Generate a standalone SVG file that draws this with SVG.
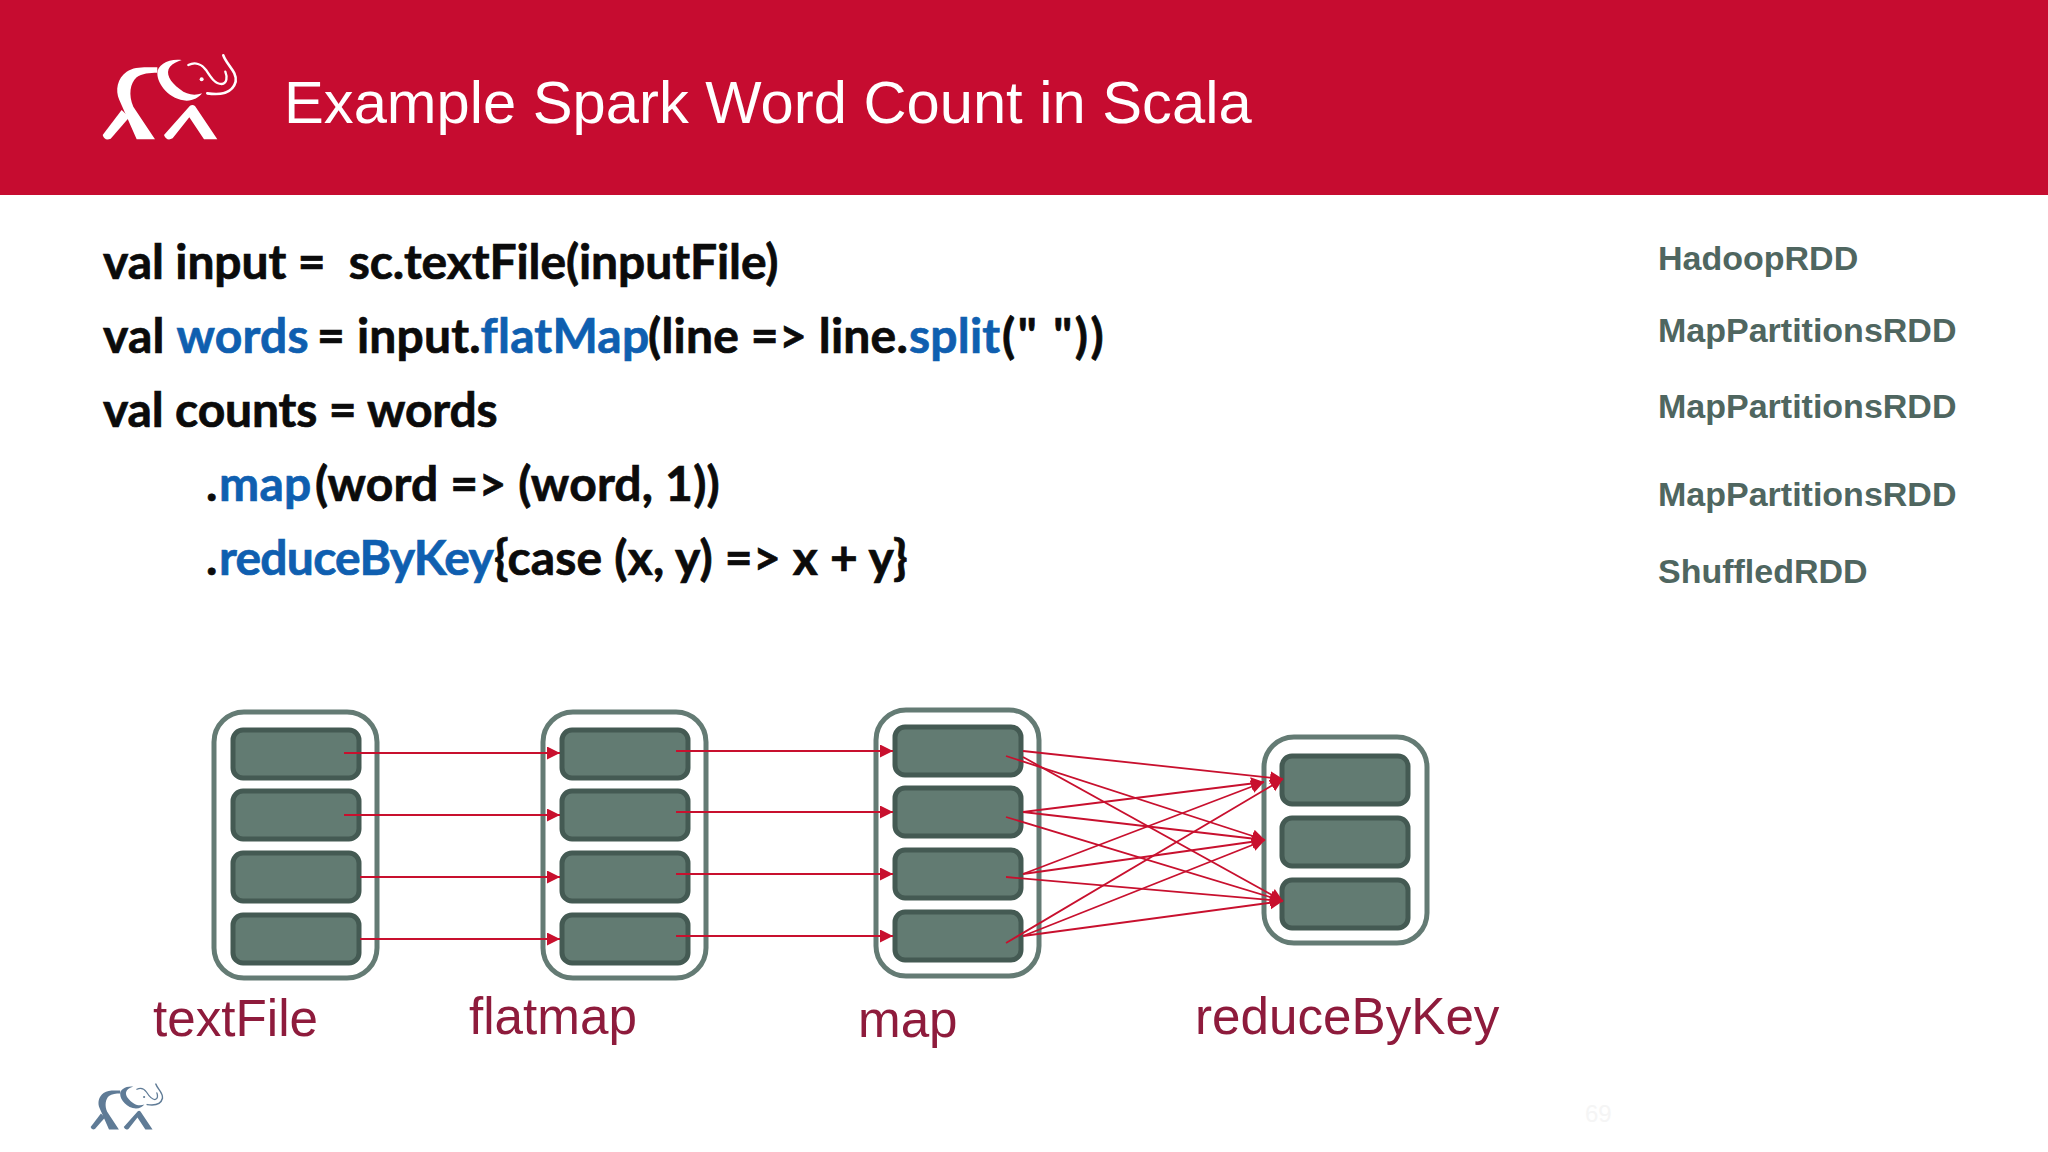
<svg xmlns="http://www.w3.org/2000/svg" width="2048" height="1152" viewBox="0 0 2048 1152">
<defs>
<style>
.code{font-family:Lato,"Noto Sans",sans-serif;font-weight:700;font-size:48px;letter-spacing:.2px;fill:#0b0b0b;stroke:#0b0b0b;stroke-width:.7;white-space:pre}
.b{fill:#0f5fb0;stroke:#0f5fb0}
.rdd{font-family:"Liberation Sans",Arial,sans-serif;font-weight:700;font-size:34px;fill:#4f6660}
.lab{font-family:"Liberation Sans",Arial,sans-serif;font-size:51.2px;fill:#8e1b3c}
.outer{fill:#fff;stroke:#647b74;stroke-width:5}
.inner{fill:#627b72;stroke:#445a53;stroke-width:5}
.c{stroke:#c8102e;stroke-width:1.8;fill:none;marker-end:url(#a)}
</style>
<marker id="a" markerUnits="userSpaceOnUse" markerWidth="14" markerHeight="14" refX="13" refY="6.5" orient="auto"><path d="M0 0L13 6.5L0 13Z" fill="#c8102e"/></marker>
<g id="elephant">
<path d="M68 315 L125 240 L148 262 L92 326 Q74 334 68 315Z" fill="currentColor"/>
<path d="M232 112 C200 112 165 108 140 125 C112 145 105 180 118 210 L170 328 L225 328 L160 230 C145 195 150 160 170 142 C185 130 210 128 232 128Z" fill="currentColor"/>
<path d="M252 315 L330 227 Q338 222 345 228 L412 328 L372 328 L328 262 L278 325 Q260 335 252 315Z" fill="currentColor"/>
<path d="M305 90 C265 85 232 105 232 130 C232 165 270 210 320 212 C340 212 358 202 366 190 C345 198 320 195 300 178 C270 155 255 130 270 110 C278 100 292 95 305 90Z" fill="currentColor"/>
<path d="M325 105 C345 95 365 102 378 120 C392 142 405 162 425 162 C442 160 442 140 436 125" fill="none" stroke="currentColor" stroke-width="7" stroke-linecap="round"/>
<path d="M382 190 C420 196 458 190 467 155 C472 125 440 105 430 76" fill="none" stroke="currentColor" stroke-width="8" stroke-linecap="round"/>
<circle cx="365" cy="148" r="6" fill="currentColor"/>
</g>
</defs>
<rect width="2048" height="1152" fill="#fff"/>
<rect id="header" width="2048" height="195" fill="#c60c30"/>
<g id="logo" transform="translate(80 30) scale(.3333)" color="#fff"><use href="#elephant"/></g>
<text x="284" y="123" font-family="Liberation Sans,Arial,sans-serif" font-size="59.7" fill="#fff">Example Spark Word Count in Scala</text>
<g id="code">
<text class="code" x="103" y="279" xml:space="preserve" style="letter-spacing:-.1px">val input =  sc.textFile(inputFile)</text>
<text class="code" x="103" y="353">val <tspan class="b" x="176.5">words</tspan><tspan x="317">= input.</tspan><tspan class="b" x="480.6">flatMap</tspan><tspan x="648">(line =&gt; line.</tspan><tspan class="b" x="909">split</tspan><tspan x="1002" style="letter-spacing:2.5px">(" "))</tspan></text>
<text class="code" x="103" y="427" style="letter-spacing:-.15px">val counts = words</text>
<text class="code" x="206" y="501">.<tspan class="b" x="219">map</tspan><tspan x="315">(word =&gt; (word, 1))</tspan></text>
<text class="code" x="206" y="575">.<tspan class="b" x="219" style="letter-spacing:-.75px">reduceByKey</tspan><tspan x="494" style="letter-spacing:.2px">{case (x, y) =&gt; x + y}</tspan></text>
</g>
<g id="rdds">
<text class="rdd" x="1658" y="270">HadoopRDD</text>
<text class="rdd" x="1658" y="342">MapPartitionsRDD</text>
<text class="rdd" x="1658" y="418">MapPartitionsRDD</text>
<text class="rdd" x="1658" y="506">MapPartitionsRDD</text>
<text class="rdd" x="1658" y="583">ShuffledRDD</text>
</g>
<g id="textFile"><rect class="outer" x="214" y="712" width="163" height="266" rx="30"/>
<rect class="inner" x="233" y="730" width="126" height="48" rx="10"/><rect class="inner" x="233" y="791" width="126" height="48" rx="10"/><rect class="inner" x="233" y="853" width="126" height="48" rx="10"/><rect class="inner" x="233" y="915" width="126" height="48" rx="10"/>
<text class="lab" x="153" y="1036">textFile</text></g>
<g id="flatmap"><rect class="outer" x="543" y="712" width="163" height="266" rx="30"/>
<rect class="inner" x="562" y="730" width="126" height="48" rx="10"/><rect class="inner" x="562" y="791" width="126" height="48" rx="10"/><rect class="inner" x="562" y="853" width="126" height="48" rx="10"/><rect class="inner" x="562" y="915" width="126" height="48" rx="10"/>
<text class="lab" x="469" y="1034">flatmap</text></g>
<g id="map"><rect class="outer" x="876" y="710" width="163" height="266" rx="30"/>
<rect class="inner" x="895" y="727" width="126" height="48" rx="10"/><rect class="inner" x="895" y="788" width="126" height="48" rx="10"/><rect class="inner" x="895" y="850" width="126" height="48" rx="10"/><rect class="inner" x="895" y="912" width="126" height="48" rx="10"/>
<text class="lab" x="858" y="1037">map</text></g>
<g id="reduceByKey"><rect class="outer" x="1264" y="737" width="163" height="206" rx="30"/>
<rect class="inner" x="1282" y="756" width="126" height="48" rx="10"/><rect class="inner" x="1282" y="818" width="126" height="48" rx="10"/><rect class="inner" x="1282" y="880" width="126" height="48" rx="10"/>
<text class="lab" x="1195" y="1034">reduceByKey</text></g>
<g id="connectors">
<path class="c" d="M344 753H560"/><path class="c" d="M344 815H560"/><path class="c" d="M360 877H560"/><path class="c" d="M360 939H560"/>
<path class="c" d="M676 751H893"/><path class="c" d="M676 812H893"/><path class="c" d="M676 874H893"/><path class="c" d="M676 936H893"/>
<path class="c" d="M1023 751L1283 779"/><path class="c" d="M1006 756L1265 840"/><path class="c" d="M1023 757L1283 901"/>
<path class="c" d="M1023 812L1264 782"/><path class="c" d="M1023 812L1265 840"/><path class="c" d="M1006 817L1283 901"/>
<path class="c" d="M1023 874L1264 782"/><path class="c" d="M1023 874L1265 840"/><path class="c" d="M1006 877L1283 901"/>
<path class="c" d="M1006 943L1283 779"/><path class="c" d="M1023 936L1265 840"/><path class="c" d="M1023 936L1283 901"/>
</g>
<g id="logo2" transform="translate(78.4 1070.4) scale(.18)" color="#5f7b96"><use href="#elephant"/></g>
<text x="1585" y="1122" font-family="Liberation Sans,Arial,sans-serif" font-size="24" fill="#f5f5f5">69</text>
</svg>
